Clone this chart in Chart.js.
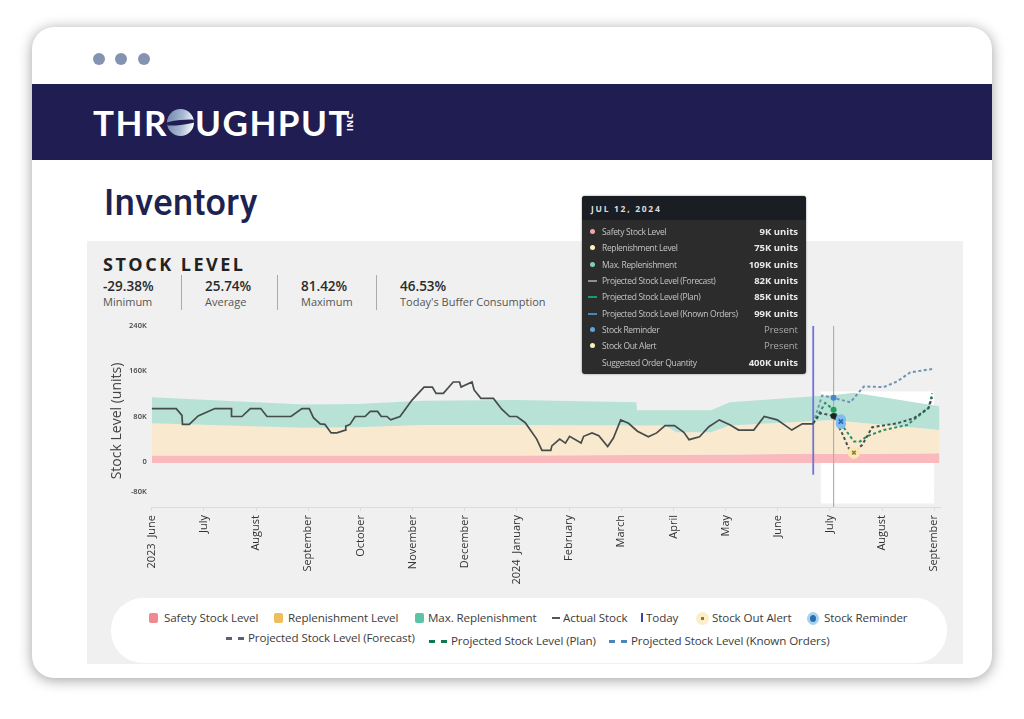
<!DOCTYPE html>
<html><head><meta charset="utf-8">
<script src="https://cdn.jsdelivr.net/npm/chart.js@4"></script>
<style>
html,body{margin:0;padding:0;background:#fff;width:1024px;height:719px;overflow:hidden;font-family:"Open Sans",sans-serif}
.abs,.abs *{box-sizing:border-box}
.abs{position:absolute}
#card{left:32px;top:27px;width:960px;height:651px;background:#fff;border-radius:22px;box-shadow:0 2px 14px rgba(0,0,0,.38)}
.dot{width:12px;height:12px;border-radius:50%;background:#8494b0;top:53px}
#hdr{left:32px;top:84px;width:960px;height:76px;background:#1f1d52}
.logo{font-family:Lato,sans-serif;font-weight:700;font-size:35px;color:#fff;line-height:40px;top:102px;white-space:nowrap}
#globe{left:167px;top:109px;width:27px;height:27px;border-radius:50%;background:linear-gradient(100deg,#6f86aa 0%,#a9bad3 55%,#fff 95%);overflow:hidden}
#globe i{position:absolute;left:-3px;top:11px;width:33px;height:5px;background:#1f1d52;transform:rotate(-6deg);border-radius:50%}
#inc{left:343px;top:115px;width:24px;height:14px;transform:rotate(-90deg);font:700 9.5px/14px "Open Sans";color:#fff;text-align:center;transform-origin:center;letter-spacing:.5px;margin-left:-5px}
#title{left:104px;top:179px;font:500 36px/48px Roboto,sans-serif;color:#1d2350;letter-spacing:.45px}
#panel{left:87px;top:241px;width:876px;height:423px;background:#f0f0f0}
#sl{left:103px;top:252px;font:700 18px/24px "Open Sans";letter-spacing:2.5px;color:#222}
.sv{top:277px;font:600 13.5px/18px "Open Sans";color:#2a2a2a}
.sk{top:294px;font:400 11px/16px "Open Sans";color:#555}
.sep{top:275px;width:1px;height:35px;background:#aaa}
#chartbox{left:87px;top:315px;width:876px;height:285px}
#ytitle{left:116px;top:421px;width:170px;height:20px;margin-left:-85px;margin-top:-10px;transform:rotate(-90deg);font:400 14px/20px "Open Sans";color:#444;text-align:center;white-space:nowrap}
#tip{left:582px;top:196px;width:224px;height:178px;background:#2c2c2c;border-radius:3px;overflow:hidden;box-shadow:0 0 2px rgba(0,0,0,.5)}
#tiph{left:0;top:0;width:224px;height:24px;background:#1b1d24;color:#ddd;font:700 8.5px/25px "Open Sans";letter-spacing:1.7px;padding-left:9px}
.tl{left:20px;font:400 8.5px/12px "Open Sans";letter-spacing:-.35px;color:#c4c4c4;white-space:nowrap}
.tv{right:8px;font:700 9.5px/12px "Open Sans";color:#e8e8e8;white-space:nowrap}
.tv.p{font-weight:400;color:#aaa}
.td{left:8px;width:5px;height:5px;border-radius:50%}
.tdd{left:6px;width:9px;height:0;border-top:2px dashed #888}
#lg{left:111px;top:598px;width:836px;height:65px;background:#fff;border-radius:32px}
.lt{font:400 11.6px/16px "Open Sans";color:#3c3c3c;white-space:nowrap;letter-spacing:-.1px}
.sw{width:9px;height:10px;border-radius:2px}
</style></head><body>
<div class="abs" id="card"></div>
<div class="abs dot" style="left:93px"></div><div class="abs dot" style="left:115px"></div><div class="abs dot" style="left:138px"></div>
<div class="abs" id="hdr"></div>
<div class="abs logo" style="left:93px;letter-spacing:1.5px">THR</div>
<div class="abs" id="globe"><i></i></div>
<div class="abs logo" style="left:195px;letter-spacing:1.5px">UGHPUT</div>
<div class="abs" id="inc">INC</div>
<div class="abs" id="title">Inventory</div>
<div class="abs" id="panel"></div>
<div class="abs" id="sl">STOCK LEVEL</div>
<div class="abs sv" style="left:103px">-29.38%</div><div class="abs sk" style="left:103px">Minimum</div>
<div class="abs sep" style="left:181px"></div>
<div class="abs sv" style="left:205px">25.74%</div><div class="abs sk" style="left:205px">Average</div>
<div class="abs sep" style="left:277px"></div>
<div class="abs sv" style="left:301px">81.42%</div><div class="abs sk" style="left:301px">Maximum</div>
<div class="abs sep" style="left:376px"></div>
<div class="abs sv" style="left:400px">46.53%</div><div class="abs sk" style="left:400px">Today's Buffer Consumption</div>
<div class="abs" id="chartbox"><canvas id="c" width="876" height="285" style="width:876px;height:285px;display:block"></canvas></div>
<div class="abs" id="ytitle">Stock Level (units)</div>
<div class="abs" id="tip"><div class="abs" id="tiph">JUL 12, 2024</div></div>
<div class="abs" id="lg"></div>
<div class="abs sw" style="left:149px;top:613px;background:#ee8a90"></div><div class="abs lt" style="left:164px;top:610px">Safety Stock Level</div>
<div class="abs sw" style="left:274px;top:613px;background:#eebd5c"></div><div class="abs lt" style="left:288px;top:610px">Replenishment Level</div>
<div class="abs sw" style="left:415px;top:613px;background:#5cc4a4"></div><div class="abs lt" style="left:428px;top:610px">Max. Replenishment</div>
<div class="abs" style="left:552px;top:617px;width:8px;height:2px;background:#555"></div><div class="abs lt" style="left:563px;top:610px">Actual Stock</div>
<div class="abs" style="left:641px;top:613px;width:2px;height:9px;background:#3a40b0"></div><div class="abs lt" style="left:646px;top:610px">Today</div>
<div class="abs" style="left:696px;top:612px;width:13px;height:13px;border-radius:50%;background:#fbeec8"></div><div class="abs" style="left:701px;top:617px;width:3px;height:3px;background:#8a7a30"></div><div class="abs lt" style="left:712px;top:610px">Stock Out Alert</div>
<div class="abs" style="left:807px;top:612px;width:12px;height:13px;border-radius:50%;background:#a8d2f0"></div><div class="abs" style="left:810px;top:615px;width:6px;height:7px;border-radius:50%;background:#2a6fae"></div><div class="abs lt" style="left:824px;top:610px">Stock Reminder</div>
<div class="abs" style="left:226px;top:637px;width:18px;height:0;border-top:3px dashed #5a5f7a"></div><div class="abs lt" style="left:248px;top:630px">Projected Stock Level (Forecast)</div>
<div class="abs" style="left:429px;top:640px;width:18px;height:0;border-top:3px dashed #0f7a50"></div><div class="abs lt" style="left:451px;top:633px">Projected Stock Level (Plan)</div>
<div class="abs" style="left:609px;top:640px;width:18px;height:0;border-top:3px dashed #4a86b8"></div><div class="abs lt" style="left:631px;top:633px">Projected Stock Level (Known Orders)</div>
<script>
// x positions are months counted from June 2023
const monthLabels = ['2023  June','July','August','September','October','November','December','2024  January','February','March','April','May','June','July','August','September'];
const yTickValues = [240,160,80,0,-53];
const yTickLabels = ['240K','160K','80K','0','-80K'];

const stockMonths = [0,.47,.58,.59,.72,.89,1.21,1.53,1.53,1.73,1.89,2.09,2.21,2.67,2.88,3.02,3.10,3.23,3.32,3.44,3.55,3.71,3.72,3.80,3.90,4.09,4.19,4.33,4.40,4.51,4.58,4.76,4.99,5.22,5.38,5.45,5.59,5.78,5.90,5.93,6.14,6.18,6.31,6.55,6.71,6.86,7.0,7.16,7.38,7.48,7.65,7.67,7.82,7.93,8.01,8.23,8.28,8.44,8.57,8.74,8.85,8.99,9.14,9.31,9.52,9.68,9.84,10.02,10.2,10.3,10.5,10.68,10.88,11.09,11.25,11.54,11.74,11.99,12.27,12.47,12.68];
const stockValues = [94,94,82,66,66,81,94,94,80,80,94,94,80,80,94,94,78,67,66,51,51,56,63,66,80,80,89,89,80,80,74,80,109,132,132,121,121,141,141,132,141,127,112,112,93,80,80,69,40,20,20,28,40,33,45,33,45,51,46,27,42,74,68,54,44,51,64,64,52,39,44,62,74,65,56,56,80,74,56,67,67];

const bandMonths = [0,2.91,3.93,5.2,7,9.29,9.3,9.85,10.05,10.72,11.08,12.71,13.07,13.47,15.1];
const safetyLevel = [11,11,11,11,11,12,12,12,12,13,13,14,14,14,15];
const replenishLevel = [68,60,61,65,65,64,64,64,52,52,64,72,74,70,56];
const maxReplenish = [114,101,102,108,109,105,91,91,91,91,105,116,118,122,98];
const bandFloor = -2;

const forecastMonths = [12.68,12.82,13.07,13.23,13.36,13.46,13.62,13.81,14.29,14.61,14.89,14.96];
const forecastValues = [68,86,81,51,24,16,30,61,68,77,95,114];
const planMonths = [12.68,12.91,13.07,13.23,13.46,13.58,13.71,14.03,14.48,14.89,14.96];
const planValues = [68,104,92,65,36,36,45,56,65,95,121];
const knownMonths = [12.68,12.85,13.07,13.39,13.65,14.03,14.29,14.54,14.96];
const knownValues = [68,117,113,105,133,132,142,158,164];

const todayMonth = 12.68, todayRange = [240,-23];
const hoverMonth = 13.07, hoverRange = [240,-80];
const hoverDots = [81,92,113];
const reminderMonth = 13.21, reminderValue = 71, reminderHaloValues = [75,67];
const alertMonth = 13.46, alertValue = 16;
const forecastWindow = {from:12.82,to:15,top:124,bottom:-74};

const tipLabels = ['Safety Stock Level','Replenishment Level','Max. Replenishment','Projected Stock Level (Forecast)','Projected Stock Level (Plan)','Projected Stock Level (Known Orders)','Stock Reminder','Stock Out Alert','Suggested Order Quantity'];
const tipValues = ['9K units','75K units','109K units','82K units','85K units','99K units','Present','Present','400K units'];
const tipMarks = ['#f2a6ab','#fdf3c0','#7fd0b4','d#8a8f99','d#1f9a60','d#4a86b8','#5aa5e0','#fdf0b0',''];

const tip = document.getElementById('tip');
const tipRowY = [36,52,69,85,101,118,134,150,167];
tipLabels.forEach((t,i)=>{
  const y = tipRowY[i];
  tip.insertAdjacentHTML('beforeend',`<div class="abs tl" style="top:${y-6}px">${t}</div><div class="abs tv${tipValues[i]==='Present'?' p':''}" style="top:${y-6}px">${tipValues[i]}</div>`);
  const m = tipMarks[i];
  if(m.startsWith('d')) tip.insertAdjacentHTML('beforeend',`<div class="abs tdd" style="top:${y-1}px;border-top-color:${m.slice(1)}"></div>`);
  else if(m) tip.insertAdjacentHTML('beforeend',`<div class="abs td" style="top:${y-3}px;background:${m}"></div>`);
});

const zip=(xs,ys)=>xs.map((x,i)=>({x,y:ys[i]}));
const off={pointRadius:0,pointHoverRadius:0};
const layers=[
    {label:'Forecast window',data:[{x:forecastWindow.from,y:forecastWindow.top},{x:forecastWindow.to,y:forecastWindow.top}],borderWidth:0,borderColor:'transparent',backgroundColor:'#ffffff',fill:{value:forecastWindow.bottom},...off},
    {label:'Safety Stock Level',data:zip(bandMonths,safetyLevel),borderWidth:0,borderColor:'transparent',backgroundColor:'#f9b9bd',fill:{value:bandFloor},...off},
    {label:'Replenishment Level',data:zip(bandMonths,replenishLevel),borderWidth:0,borderColor:'transparent',backgroundColor:'#f9e9cf',fill:'-1',...off},
    {label:'Max. Replenishment',data:zip(bandMonths,maxReplenish),borderWidth:0,borderColor:'transparent',backgroundColor:'#b8e2d5',fill:'-1',...off},
    {label:'Hover',data:hoverRange.map(y=>({x:hoverMonth,y})),borderColor:'#aeaeae',borderWidth:1.2,fill:false,...off},
    {label:'Today',data:todayRange.map(y=>({x:todayMonth,y})),borderColor:'#6f74d6',borderWidth:1.8,fill:false,...off},
    {label:'Actual Stock',data:zip(stockMonths,stockValues),borderColor:'#454c4b',borderWidth:1.7,fill:false,tension:0,...off},
    {label:'Projected Stock Level (Known Orders)',data:zip(knownMonths,knownValues),borderColor:'#6d95b3',borderWidth:2,borderDash:[3,2.5],fill:false,...off},
    {label:'Projected Stock Level (Plan)',data:zip(planMonths,planValues),borderColor:'#2a8f68',borderWidth:2,borderDash:[3,2.5],fill:false,...off},
    {label:'Projected Stock Level (Forecast)',data:zip(forecastMonths,forecastValues),borderColor:'#3f5150',borderWidth:2,borderDash:[3,2.5],fill:false,...off},
    {label:'Hover points',data:hoverDots.map(y=>({x:hoverMonth,y})),showLine:false,pointRadius:3,pointBorderWidth:0,pointBackgroundColor:['#222222','#22a060','#4a86c8']},
    {label:'Stock Reminder',data:reminderHaloValues.map(y=>({x:reminderMonth,y})),showLine:false,pointRadius:5.2,pointBorderWidth:0,pointBackgroundColor:'#7dbdf0'},
    {label:'Stock Reminder centre',data:[{x:reminderMonth,y:reminderValue}],showLine:false,pointStyle:'crossRot',pointRadius:3,pointBorderWidth:1.8,pointBorderColor:'#2f6ca6'},
    {label:'Stock Out Alert',data:[{x:alertMonth,y:alertValue}],showLine:false,pointRadius:6.2,pointBorderWidth:0,pointBackgroundColor:'#f9e7b4'},
    {label:'Stock Out Alert centre',data:[{x:alertMonth,y:alertValue}],showLine:false,pointStyle:'crossRot',pointRadius:2.5,pointBorderWidth:1.6,pointBorderColor:'#8f7b32'}
];
layers.forEach((d,i)=>{d.order=layers.length-i;});
new Chart(document.getElementById('c'),{
  type:'line',
  data:{datasets:layers},
  options:{
    responsive:false,animation:false,
    layout:{padding:{left:0,right:23,top:11,bottom:0}},
    plugins:{legend:{display:false},tooltip:{enabled:false}},
    scales:{
      x:{type:'linear',min:0,max:15.11,
        afterBuildTicks:s=>{s.ticks=monthLabels.map((_,i)=>({value:i}));},
        afterFit:s=>{s.height=93;},
        grid:{drawOnChartArea:false,color:'#dcdcdc',tickLength:4},
        border:{color:'#dcdcdc'},
        ticks:{autoSkip:false,maxRotation:90,minRotation:90,padding:4,color:'#333',font:{family:'"Open Sans"',size:11},callback:v=>monthLabels[v]}
      },
      y:{min:-80,max:240,
        afterBuildTicks:s=>{s.ticks=yTickValues.map(value=>({value}));},
        afterFit:s=>{s.width=64.7;},
        grid:{color:'#eeeeee',drawTicks:false},
        border:{display:false},
        ticks:{padding:5,color:'#444',font:{family:'"Open Sans"',size:7.5,weight:'600'},callback:v=>yTickLabels[yTickValues.indexOf(v)]}
      }
    }
  }
});
</script>
</body></html>
